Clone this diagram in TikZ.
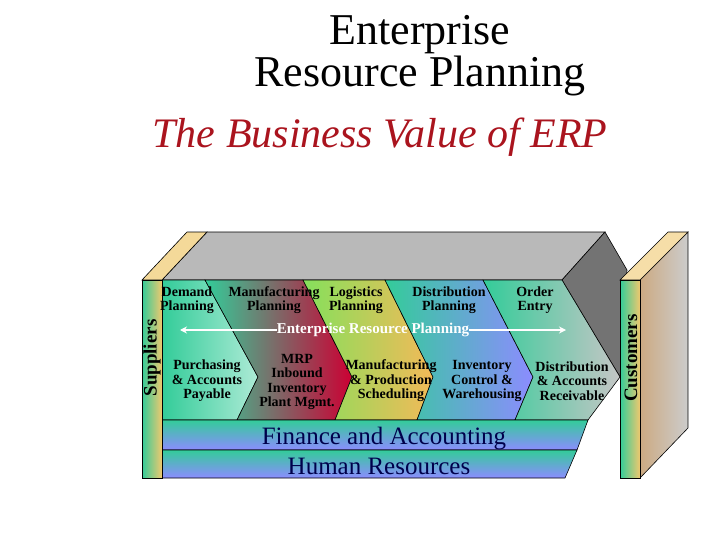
\documentclass[tikz,border=0pt]{standalone}
\usepackage{fontspec}
\setmainfont{Liberation Serif}
\usetikzlibrary{arrows.meta}
\definecolor{erpteal}{RGB}{51,204,153}
\definecolor{erpred}{RGB}{204,0,51}
\definecolor{erptan}{RGB}{204,170,130}
\definecolor{erpyel}{RGB}{240,200,110}
\definecolor{erpblue}{RGB}{140,140,255}
\definecolor{erptitle}{RGB}{170,20,30}
\begin{document}
\begin{tikzpicture}[
	x=1pt,y=-1pt,
	lbl/.style={font=\bfseries\fontsize{14}{14.5}\selectfont,align=center,inner sep=0pt},
	band/.style={font=\fontsize{25}{26}\selectfont,text=blue!30!black,inner sep=0pt},
	bar/.style={font=\bfseries\fontsize{19}{20}\selectfont,rotate=90,inner sep=0pt},
	face/.style={draw=black,line width=0.6pt}
	]
	\useasboundingbox (0,0) rectangle (720,540);
	% titles
	\node[font=\fontsize{44}{42}\selectfont,align=center] (title) at (420,56) {Enterprise\\Resource Planning};
	\node[font=\itshape\fontsize{42}{44}\selectfont,text=erptitle] (sub) at (380,137) {The Business Value of ERP};

	% box top and side
	\draw[face,fill=gray!55] (162,280) -- (207,232) -- (605,232) -- (562,280) -- cycle;
	\draw[face,fill=gray!90!black] (562,280) -- (605,232) -- (627,270) -- (620,377) -- cycle;

	% chevrons
	\shade[face,left color=erpteal,right color=erpteal!40!white]
		(162,280) -- (205,280) -- (258,377) -- (237,420) -- (162,420) -- cycle;
	\shade[face,left color=erpteal,right color=erpred]
		(205,280) -- (303,280) -- (352,377) -- (335,420) -- (237,420) -- (258,377) -- cycle;
	\shade[face,left color=erpteal!60!yellow,right color=erpyel!80!orange]
		(303,280) -- (385,280) -- (433,377) -- (417,420) -- (335,420) -- (352,377) -- cycle;
	\shade[face,left color=erpteal,right color=erpblue]
		(385,280) -- (483,280) -- (533,377) -- (515,420) -- (417,420) -- (433,377) -- cycle;
	\shade[face,left color=erpteal,right color=gray!45]
		(483,280) -- (562,280) -- (620,377) -- (588,420) -- (515,420) -- (533,377) -- cycle;

	% bands
	\shade[face,top color=erpteal,bottom color=erpblue]
		(162,420) -- (588,420) -- (577,450) -- (162,450) -- cycle;
	\shade[face,top color=erpteal,bottom color=erpblue]
		(162,450) -- (577,450) -- (565,478) -- (162,478) -- cycle;
	\node[band] (fin) at (384,439) {Finance and Accounting};
	\node[band] (hr) at (379,466) {Human Resources};

	% suppliers
	\draw[face,fill=erpyel!70!white] (142,280) -- (187,232) -- (207,232) -- (162,280) -- cycle;
	\shade[face,left color=erpteal,right color=erpyel] (142,280) rectangle (162,478);
	\node[bar] (sup) at (152,358) {Suppliers};

	% customers
	\shade[face,left color=erptan,right color=gray!40] (640,280) -- (688,232) -- (688,428) -- (640,478) -- cycle;
	\draw[face,fill=erpyel!60!white] (620,280) -- (668,232) -- (688,232) -- (640,280) -- cycle;
	\shade[face,left color=erpteal,right color=erpyel] (620,280) rectangle (640,478);
	\node[bar] (cus) at (631,358) {Customers};

	% upper labels
	\node[lbl] (dem) at (187,300) {Demand\\Planning};
	\node[lbl] (mfg) at (274,300) {Manufacturing\\Planning};
	\node[lbl] (log) at (356,300) {Logistics\\Planning};
	\node[lbl] (dis) at (449,300) {Distribution\\Planning};
	\node[lbl] (ord) at (535,300) {Order\\Entry};

	% erp arrow
	\node[lbl,text=white,font=\bfseries\fontsize{15}{16}\selectfont] (erp) at (373,330) {Enterprise Resource Planning};
	\coordinate (erpl) at (180,330);
	\coordinate (erpr) at (566,330);
	\draw[white,line width=2.2pt,-{Stealth[length=7pt,width=7pt]}] (erp.west) -- (erpl);
	\draw[white,line width=2.2pt,-{Stealth[length=7pt,width=7pt]}] (erp.east) -- (erpr);

	% lower labels
	\node[lbl] (pur) at (207,381) {Purchasing\\\& Accounts\\Payable};
	\node[lbl] (mrp) at (297,382) {MRP\\Inbound\\Inventory\\Plant Mgmt.};
	\node[lbl] (prd) at (391,381) {Manufacturing\\\& Production\\Scheduling};
	\node[lbl] (inv) at (482,381) {Inventory\\Control \&\\Warehousing};
	\node[lbl] (rec) at (572,381) {Distribution\\\& Accounts\\Receivable};
\end{tikzpicture}
\end{document}
